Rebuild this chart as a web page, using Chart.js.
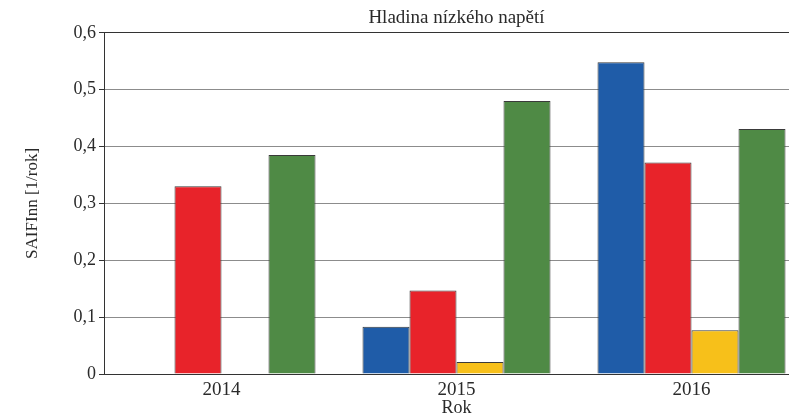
<!DOCTYPE html>
<html lang="cs">
<head>
<meta charset="utf-8">
<title>SAIFInn - Hladina nízkého napětí</title>
<script src="https://cdn.jsdelivr.net/npm/chart.js@4/dist/chart.umd.min.js"></script>
<style>
  html, body { margin: 0; padding: 0; background: #fff; overflow: hidden; }
  #wrap { width: 820px; height: 424px; }
</style>
</head>
<body>
<div id="wrap"><canvas id="chart" width="820" height="424"></canvas></div>
<script>
// ============================
// DATA
// ============================
const years = ["2014", "2015", "2016"];
const blueValues = [null, 0.083, 0.548];
const redValues = [0.330, 0.147, 0.372];
const yellowValues = [null, 0.021, 0.077];
const greenValues = [0.385, 0.480, 0.431];
const yTickLabels = ["0", "0,1", "0,2", "0,3", "0,4", "0,5", "0,6"];

const SERIF = "'Liberation Serif', 'DejaVu Serif', serif";
const INK = "#2a2a2a";

function barSet(label, data, color) {
  return {
    label: label,
    data: data,
    backgroundColor: color,
    borderColor: "#3a3a3a",
    borderWidth: 1,
    categoryPercentage: 0.8,
    barPercentage: 1.0
  };
}

// ============================
// CHART
// ============================
const ctx = document.getElementById("chart").getContext("2d");
new Chart(ctx, {
  type: "bar",
  data: {
    labels: years,
    datasets: [
      barSet("modrá", blueValues, "#1f5ca8"),
      barSet("červená", redValues, "#e8232a"),
      barSet("žlutá", yellowValues, "#f7c01a"),
      barSet("zelená", greenValues, "#4f8a45")
    ]
  },
  options: {
    responsive: false,
    animation: false,
    layout: { padding: { left: 22, right: 11, top: 0, bottom: 0 } },
    plugins: {
      legend: { display: false },
      tooltip: { enabled: false },
      title: {
        display: true,
        text: "Hladina nízkého napětí",
        fullSize: false,
        color: INK,
        font: { family: SERIF, size: 19, weight: "normal" },
        padding: { top: 7, bottom: 3 }
      }
    },
    scales: {
      x: {
        grid: { display: false },
        border: { display: true, color: "#333", width: 1 },
        ticks: {
          color: INK,
          padding: -3,
          font: { family: SERIF, size: 19 }
        },
        title: {
          display: true,
          text: "Rok",
          color: INK,
          font: { family: SERIF, size: 18 },
          padding: { top: 0, bottom: 5 }
        },
        afterFit: (scale) => { scale.height = 50; }
      },
      y: {
        min: 0,
        max: 0.6,
        ticks: {
          stepSize: 0.1,
          color: INK,
          padding: 3,
          font: { family: SERIF, size: 18 },
          callback: (value, index) => yTickLabels[index]
        },
        grid: {
          color: (c) => (c.tick && Math.abs(c.tick.value - 0.6) < 1e-9) ? "#333" : "#8c8c8c",
          tickColor: "#333",
          tickLength: 5,
          lineWidth: 1
        },
        border: { display: true, color: "#333", width: 1 },
        title: {
          display: true,
          text: "SAIFInn [1/rok]",
          color: INK,
          font: { family: SERIF, size: 17 },
          padding: { top: 0, bottom: 0 }
        },
        afterFit: (scale) => { scale.width = 82; }
      }
    }
  }
});
</script>
</body>
</html>
